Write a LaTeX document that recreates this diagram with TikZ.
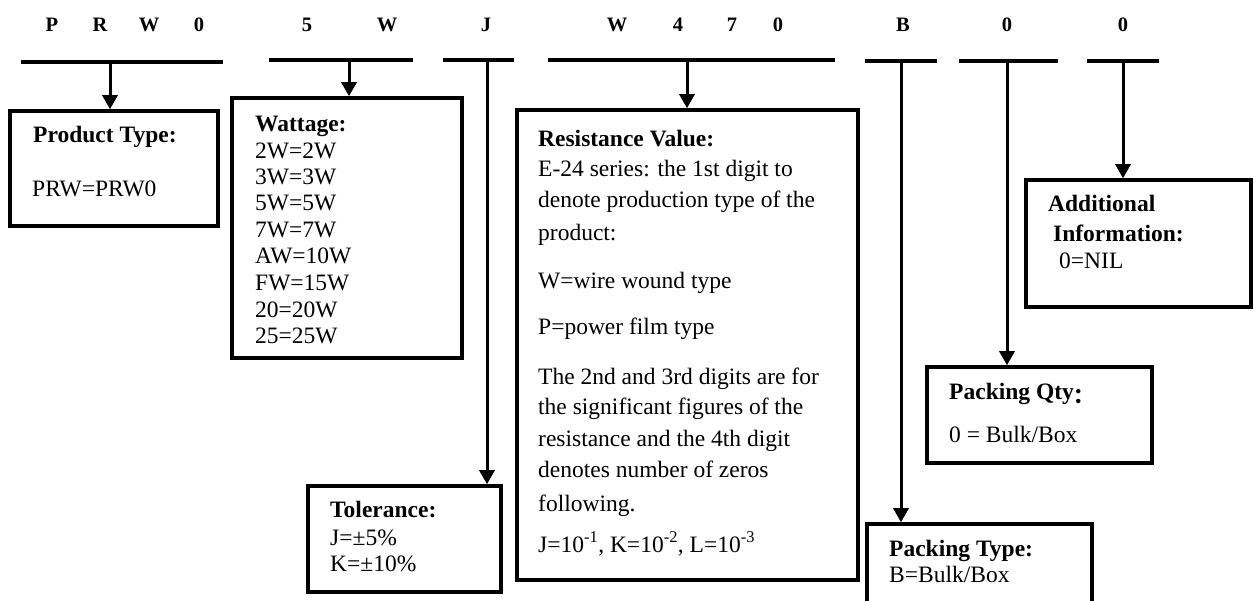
\documentclass[tikz,border=0pt]{standalone}
\usepackage{fontspec}
\setmainfont{Liberation Serif}
\newfontfamily\cjkfont{Noto Sans CJK SC}
\usetikzlibrary{arrows.meta,fit}
\begin{document}
\begin{tikzpicture}[x=1pt,y=-1pt,
  box/.style={draw, line width=3.5pt, inner sep=0pt},
  bar/.style={line width=4pt},
  arr/.style={line width=3pt, -{Triangle[width=15pt,length=14pt]}},
  hdr/.style={font=\fontsize{20.5}{24}\selectfont\bfseries, anchor=base, inner sep=0pt},
  txt/.style={font=\fontsize{23.5}{28}\selectfont, anchor=base west, inner sep=0pt},
  ttl/.style={font=\fontsize{23.5}{28}\selectfont\bfseries, anchor=base west, inner sep=0pt}]
\useasboundingbox (0,0) rectangle (1254,601);

% header letters
\node[hdr] (h1) at (52,32) {P};
\node[hdr] (h2) at (100,32) {R};
\node[hdr] (h3) at (149,32) {W};
\node[hdr] (h4) at (199,32) {0};
\node[hdr] (h5) at (307,32) {5};
\node[hdr] (h6) at (387,32) {W};
\node[hdr] (h7) at (486,32) {J};
\node[hdr] (h8) at (617,32) {W};
\node[hdr] (h9) at (678,32) {4};
\node[hdr] (h10) at (732,32) {7};
\node[hdr] (h11) at (778,32) {0};
\node[hdr] (h12) at (903,32) {B};
\node[hdr] (h13) at (1007,32) {0};
\node[hdr] (h14) at (1123,32) {0};

% boxes
\coordinate (pa) at (10,111);   \coordinate (pb) at (218,226);
\node[box, fit=(pa)(pb)] (prod) {};
\coordinate (wa) at (232,98);   \coordinate (wb) at (462,358);
\node[box, fit=(wa)(wb)] (watt) {};
\coordinate (ta) at (308,486);  \coordinate (tb) at (501,592);
\node[box, fit=(ta)(tb)] (tol) {};
\coordinate (ra) at (517,110);  \coordinate (rb) at (858,580);
\node[box, fit=(ra)(rb)] (res) {};
\coordinate (ka) at (867,524);  \coordinate (kb) at (1092,640);
\node[box, fit=(ka)(kb)] (ptype) {};
\coordinate (qa) at (927,367);  \coordinate (qb) at (1152,463);
\node[box, fit=(qa)(qb)] (pqty) {};
\coordinate (aa) at (1026,180); \coordinate (ab) at (1251,307);
\node[box, fit=(aa)(ab)] (add) {};

% bars and arrows
\draw[bar] (21,62) -- (223,62);
\coordinate (s1) at (110,62);
\draw[arr] (s1) -- (s1 |- prod.north);

\draw[bar] (269,60) -- (413,60);
\coordinate (s2) at (349,60);
\draw[arr] (s2) -- (s2 |- watt.north);

\draw[bar] (443,60) -- (514,60);
\coordinate (s3) at (487,60);
\draw[arr] (s3) -- (s3 |- tol.north);

\draw[bar] (548,60) -- (835,60);
\coordinate (s4) at (687,60);
\draw[arr] (s4) -- (s4 |- res.north);

\draw[bar] (865,61) -- (937,61);
\coordinate (s5) at (901,61);
\draw[arr] (s5) -- (s5 |- ptype.north);

\draw[bar] (959,61) -- (1058,61);
\coordinate (s6) at (1007,61);
\draw[arr] (s6) -- (s6 |- pqty.north);

\draw[bar] (1087,61) -- (1159,61);
\coordinate (s7) at (1123,61);
\draw[arr] (s7) -- (s7 |- add.north);

% Product type
\node[ttl] (pt1) at (33,143) {Product Type:};
\node[txt] (pt2) at (32,197) {PRW=PRW0};

% Wattage
\node[ttl] (w0) at (255,132) {Wattage:};
\node[txt] (w1) at (255,159) {2W=2W};
\node[txt] (w2) at (255,185) {3W=3W};
\node[txt] (w3) at (255,211) {5W=5W};
\node[txt] (w4) at (255,238) {7W=7W};
\node[txt] (w5) at (255,264) {AW=10W};
\node[txt] (w6) at (255,291) {FW=15W};
\node[txt] (w7) at (255,318) {20=20W};
\node[txt] (w8) at (255,344) {25=25W};

% Tolerance
\node[ttl] (t0) at (330,518) {Tolerance:};
\node[txt] (t1) at (330,546) {J=±5\%};
\node[txt] (t2) at (330,572) {K=±10\%};

% Resistance
\node[ttl] (r0) at (538,147) {Resistance Value:};
\node[txt] (r1) at (538,177) {E-24 series: the 1st digit to};
\node[txt] (r2) at (538,208) {denote production type of the};
\node[txt] (r3) at (538,241) {product:};
\node[txt] (r4) at (538,289) {W=wire wound type};
\node[txt] (r5) at (538,335) {P=power film type};
\node[txt] (r6) at (538,385) {The 2nd and 3rd digits are for};
\node[txt] (r7) at (538,415) {the significant figures of the};
\node[txt] (r8) at (538,447) {resistance and the 4th digit};
\node[txt] (r9) at (538,478) {denotes number of zeros};
\node[txt] (r10) at (538,512) {following.};
\node[txt] (r11) at (538,552) {J=10\textsuperscript{-1}, K=10\textsuperscript{-2}, L=10\textsuperscript{-3}};

% Additional
\node[ttl] (a0) at (1048,212) {Additional};
\node[ttl] (a1) at (1053,242) {Information:};
\node[txt] (a2) at (1059,269) {0=NIL};

% Packing qty
\node[ttl] (q0) at (949,400) {Packing Qty\raisebox{-4pt}{\cjkfont\fontsize{21}{24}\selectfont ：}};
\node[txt] (q1) at (949,443) {0 = Bulk/Box};

% Packing type
\node[ttl] (k0) at (889,557) {Packing Type:};
\node[txt] (k1) at (889,583) {B=Bulk/Box};
\end{tikzpicture}
\end{document}
